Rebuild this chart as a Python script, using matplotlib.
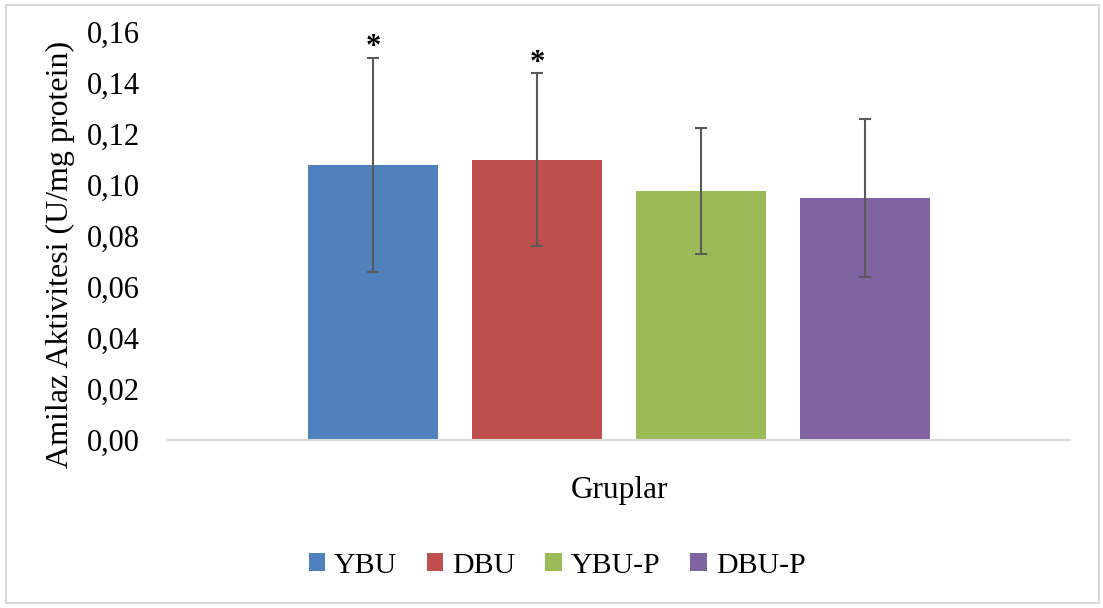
import numpy as np
import matplotlib
matplotlib.use("Agg")
import matplotlib.pyplot as plt
from matplotlib.patches import Rectangle

# data
groups = ["YBU", "DBU", "YBU-P", "DBU-P"]
means = [0.108, 0.110, 0.0976, 0.0950]
errors = [0.042, 0.034, 0.0248, 0.0309]
marks = ["*", "*", "", ""]
colors = ["#4F81BD", "#C0504D", "#9BBB59", "#8064A2"]
yticks = [0.00, 0.02, 0.04, 0.06, 0.08, 0.10, 0.12, 0.14, 0.16]

plt.rcParams['font.family'] = ['Liberation Serif', 'DejaVu Serif']

fig = plt.figure(figsize=(11.03, 6.08), dpi=100)
ax = fig.add_axes([168 / 1103, 1 - 440 / 608, 902 / 1103, 408 / 608])

# outer frame like the Excel chart area
fig.patches.append(Rectangle((6 / 1103, 5 / 608), 1093 / 1103, 598 / 608,
                             transform=fig.transFigure, fill=False,
                             edgecolor="#D9D9D9", linewidth=1.5))

x = np.arange(len(groups)) - (len(groups) - 1) / 2
handles = []
for i in range(len(groups)):
    b = ax.bar(x[i], means[i], width=0.787, color=colors[i], label=groups[i], zorder=2)
    handles.append(b)
    ax.errorbar(x[i], means[i], yerr=errors[i], fmt="none", ecolor="#595959",
                elinewidth=1.5, capsize=4.5, capthick=1.5, zorder=3)
    if marks[i]:
        ax.annotate(marks[i], (x[i], means[i] + errors[i]), xytext=(0, -3.5),
                    textcoords="offset points", ha="center", va="bottom",
                    fontsize=22, fontweight="bold")

ax.set_xlim(-2.75, 2.75)
ax.set_ylim(0, 0.16)
ax.set_yticks(yticks)
ax.set_yticklabels([f"{t:.2f}".replace(".", ",") for t in yticks])
ax.set_xticks([])
ax.tick_params(axis="y", length=0, pad=20, labelsize=22)

for s in ["top", "right", "left"]:
    ax.spines[s].set_visible(False)
ax.spines["bottom"].set_color("#D9D9D9")
ax.spines["bottom"].set_linewidth(1.5)

ax.set_ylabel("Amilaz Aktivitesi (U/mg protein)", fontsize=23)
ax.yaxis.set_label_coords(-0.103, 0.456)
ax.set_xlabel("Gruplar", fontsize=22.5)
ax.xaxis.set_label_coords(0.5, -0.088)

fig.legend(handles=handles, labels=groups, loc="center", ncol=4,
           bbox_to_anchor=(557 / 1103, 1 - 566 / 608), frameon=False,
           fontsize=21.5, handlelength=0.55, handleheight=0.55,
           handletextpad=0.3, columnspacing=1.0)

fig.savefig("out.png", dpi=100)
